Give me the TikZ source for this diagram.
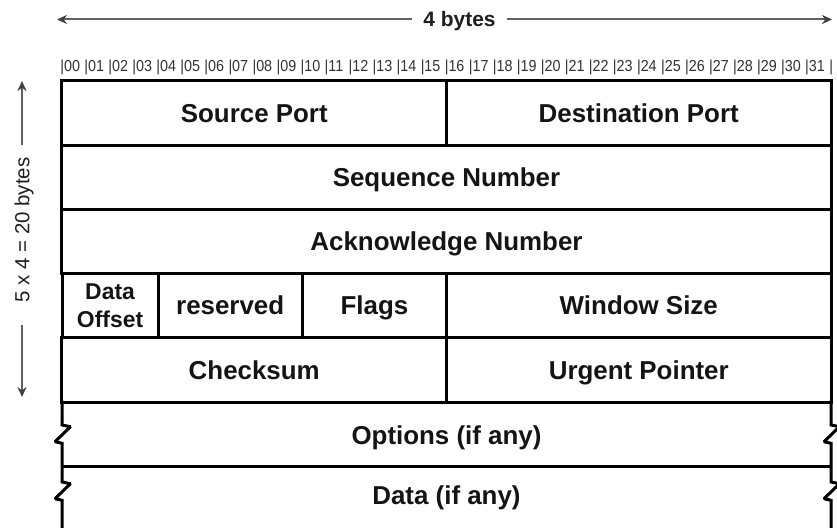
\documentclass[tikz,border=0pt]{standalone}
\usepackage{fontspec}
\setmainfont{Liberation Sans}
\newfontfamily\bitfont[FakeStretch=0.9]{Liberation Sans}
\usetikzlibrary{arrows.meta}
\begin{document}
\begin{tikzpicture}[x=1bp,y=-1bp,
  cellbox/.style={draw=black, line width=3bp, inner sep=0pt, minimum height=64.2bp,
    text=black!92, font=\fontsize{26}{28}\selectfont\bfseries},
  cell/.style={cellbox, text height=18.6bp, text depth=0bp},
  lbl/.style={inner sep=0pt, text=black!92, font=\fontsize{26}{28}\selectfont\bfseries,
    text height=18.6bp, text depth=0bp},
  rowline/.style={draw=black, line width=3bp, line join=miter, miter limit=2},
  dimarr/.style={draw=black!62, line width=2bp, -{Stealth[length=10bp,width=9bp,color=black!75]}},
  bitnum/.style={inner sep=0pt, anchor=base west, text=black!80,
    font=\bitfont\fontsize{16}{16}\selectfont}
]
\useasboundingbox (0,0) rectangle (837,528);

% dimension labels and arrows
\node[inner xsep=11bp, inner ysep=0pt, text=black!88, font=\fontsize{21}{24}\selectfont\bfseries,
  text height=15bp, text depth=0bp] (fourb) at (459.5,19.5) {4 bytes};
\coordinate (hl) at (57,19.5);
\coordinate (hr) at (832,19.5);
\draw[dimarr] (fourb.west) -- (hl);
\draw[dimarr] (fourb.east) -- (hr);

\node[rotate=90, inner xsep=12bp, inner ysep=0pt, text=black!88, font=\fontsize{20.5}{24}\selectfont,
  text height=14.7bp, text depth=0bp] (fivex) at (22,230) {5 x 4 = 20 bytes};
\coordinate (vt) at (22,81);
\coordinate (vb) at (22,397);
\draw[dimarr] (fivex.east) -- (vt);
\draw[dimarr, shorten <=10bp] (fivex.west) -- (vb);

% bit numbers
\foreach \i in {0,...,31}{
  \node[bitnum] (bit\i) at ({62+24.03*\i-1.9},72) {|\ifnum\i<10 0\fi\i};
}
\node[bitnum] (bitend) at (829.1,72) {|};

% header cells
\node[cell, minimum width=384.5bp] (srcport) at (254.25,113.1) {Source Port};
\node[cell, minimum width=384.5bp] (dstport) at (638.75,113.1) {Destination Port};
\node[cell, minimum width=769bp] (seqnum) at (446.5,177.3) {Sequence Number};
\node[cell, minimum width=769bp] (acknum) at (446.5,241.5) {Acknowledge Number};
\node[cellbox, minimum width=96.1bp, align=center, font=\fontsize{23}{28}\selectfont\bfseries]
  (doff) at (110.05,305.7) {Data\\Offset};
\node[cell, minimum width=144.2bp] (resv) at (230.2,305.7) {reserved};
\node[cell, minimum width=144.2bp] (flags) at (374.4,305.7) {Flags};
\node[cell, minimum width=384.5bp] (win) at (638.75,305.7) {Window Size};
\node[cell, minimum width=384.5bp] (cks) at (254.25,369.9) {Checksum};
\node[cell, minimum width=384.5bp] (urg) at (638.75,369.9) {Urgent Pointer};

% open-ended rows
\draw[rowline] (62,466.2) -- (831,466.2);
\draw[rowline] (62,400.5) -- (62,425) -- (70.5,426.7) -- (55,441.7) -- (62,443.3)
  -- (62,482) -- (70.5,483.7) -- (55,498.7) -- (62,500.3) -- (62,532);
\draw[rowline] (831,400.5) -- (831,425) -- (839.5,426.7) -- (824,441.7) -- (831,443.3)
  -- (831,482) -- (839.5,483.7) -- (824,498.7) -- (831,500.3) -- (831,532);
\node[lbl] (opt) at (446.5,435) {Options (if any)};
\node[lbl] (dat) at (446.5,495) {Data (if any)};
\end{tikzpicture}
\end{document}
